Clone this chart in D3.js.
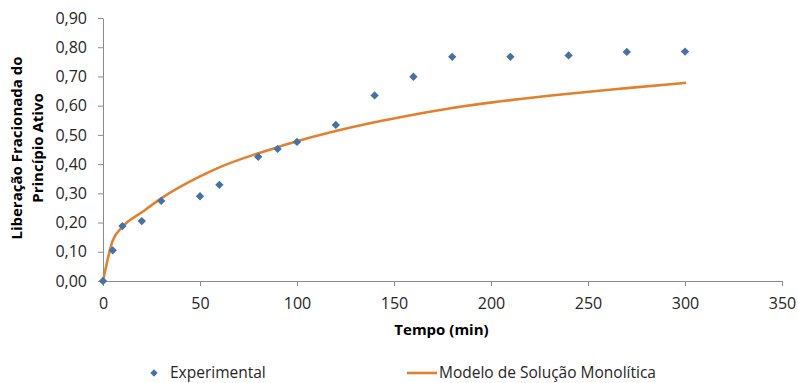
<!DOCTYPE html>
<html>
<head>
<meta charset="utf-8">
<script src="https://cdn.jsdelivr.net/npm/d3@7"></script>
<style>
  html, body { margin: 0; padding: 0; background: #fff; }
  svg { display: block; font-family: "Open Sans", "Liberation Sans", sans-serif; }
</style>
</head>
<body>
<svg id="chart" width="798" height="383"></svg>
<script>
// Release time points (min)
const tempo = [0, 5, 10, 20, 30, 50, 60, 80, 90, 100, 120, 140, 160, 180, 210, 240, 270, 300];
// Measured fractional release
const experimental = [0.00, 0.105, 0.188, 0.205, 0.274, 0.290, 0.329, 0.425, 0.452, 0.476, 0.534, 0.635, 0.699, 0.767, 0.767, 0.772, 0.784, 0.785];
// Monolithic solution model curve at the same times
const modelo = [0.00, 0.138, 0.185, 0.235, 0.283, 0.358, 0.389, 0.437, 0.458, 0.478, 0.513, 0.543, 0.569, 0.592, 0.619, 0.641, 0.660, 0.678];

const xTicks = [0, 50, 100, 150, 200, 250, 300, 350];
const yTicks = [0, 0.1, 0.2, 0.3, 0.4, 0.5, 0.6, 0.7, 0.8, 0.9];

const seriesNames = ["Experimental", "Modelo de Solução Monolítica"];
const xTitle = "Tempo (min)";
const yTitle = ["Liberação Fracionada do", "Princípio Ativo"];

const blue = "#4472A8";
const orange = "#E2802E";
const axisGrey = "#8C8C8C";
const labelColor = "#262626";

const svg = d3.select("#chart");
const plotLeft = 103, plotRight = 782, plotTop = 18, plotBottom = 281;

const x = d3.scaleLinear().domain([0, 350]).range([plotLeft, plotRight]);
const y = d3.scaleLinear().domain([0, 0.9]).range([plotBottom, plotTop]);
const fmt = v => d3.format(".2f")(v).replace(".", ",");

// Axes
const xAxis = svg.append("g")
  .attr("transform", `translate(0,${plotBottom})`)
  .call(d3.axisBottom(x).tickValues(xTicks).tickSize(5).tickPadding(8).tickSizeOuter(0));
const yAxis = svg.append("g")
  .attr("transform", `translate(${plotLeft},0)`)
  .call(d3.axisLeft(y).tickValues(yTicks).tickFormat(fmt).tickSize(5).tickPadding(11).tickSizeOuter(0));

[xAxis, yAxis].forEach(g => {
  g.select(".domain").attr("stroke", axisGrey).attr("stroke-width", 1);
  g.selectAll(".tick line").attr("stroke", axisGrey);
  g.selectAll(".tick text")
    .attr("fill", labelColor)
    .style("font-size", "16px")
    .style("font-family", "'Open Sans', sans-serif");
});
xAxis.selectAll(".tick text").attr("dy", "0.95em");

// Model curve
const line = d3.line()
  .x((d, i) => x(tempo[i]))
  .y(d => y(d))
  .curve(d3.curveMonotoneX);

svg.append("path")
  .datum(modelo)
  .attr("fill", "none")
  .attr("stroke", orange)
  .attr("stroke-width", 2.6)
  .attr("stroke-linejoin", "round")
  .attr("stroke-linecap", "round")
  .attr("d", line);

// Experimental points
const diamond = d3.symbol().type(d3.symbolDiamond2).size(44);
svg.append("g")
  .selectAll("path")
  .data(experimental)
  .join("path")
  .attr("d", diamond)
  .attr("fill", blue)
  .attr("transform", (d, i) => `translate(${x(tempo[i])},${y(d)})`);

// Axis titles
svg.append("text")
  .attr("x", (plotLeft + plotRight) / 2 - 1)
  .attr("y", 335)
  .attr("text-anchor", "middle")
  .style("font-weight", "bold")
  .style("font-size", "15px")
  .attr("fill", "#000")
  .text(xTitle);

const yt = svg.append("text")
  .attr("transform", "translate(0,148) rotate(-90)")
  .attr("text-anchor", "middle")
  .style("font-weight", "bold")
  .style("font-size", "15px")
  .attr("fill", "#000");
yt.selectAll("tspan")
  .data(yTitle)
  .join("tspan")
  .attr("x", 0)
  .attr("y", (d, i) => 22 + i * 21)
  .text(d => d);

// Legend
const legY = 373;
const legBase = 378;
svg.append("path")
  .attr("d", d3.symbol().type(d3.symbolDiamond2).size(34))
  .attr("fill", blue)
  .attr("transform", `translate(154,${legY})`);
svg.append("text")
  .attr("x", 170).attr("y", legBase)
  .style("font-size", "15.5px").attr("fill", labelColor)
  .text(seriesNames[0]);
svg.append("line")
  .attr("x1", 407).attr("x2", 437).attr("y1", legY).attr("y2", legY)
  .attr("stroke", orange).attr("stroke-width", 2.6);
svg.append("text")
  .attr("x", 439).attr("y", legBase)
  .style("font-size", "15.5px").attr("fill", labelColor)
  .text(seriesNames[1]);
</script>
</body>
</html>
